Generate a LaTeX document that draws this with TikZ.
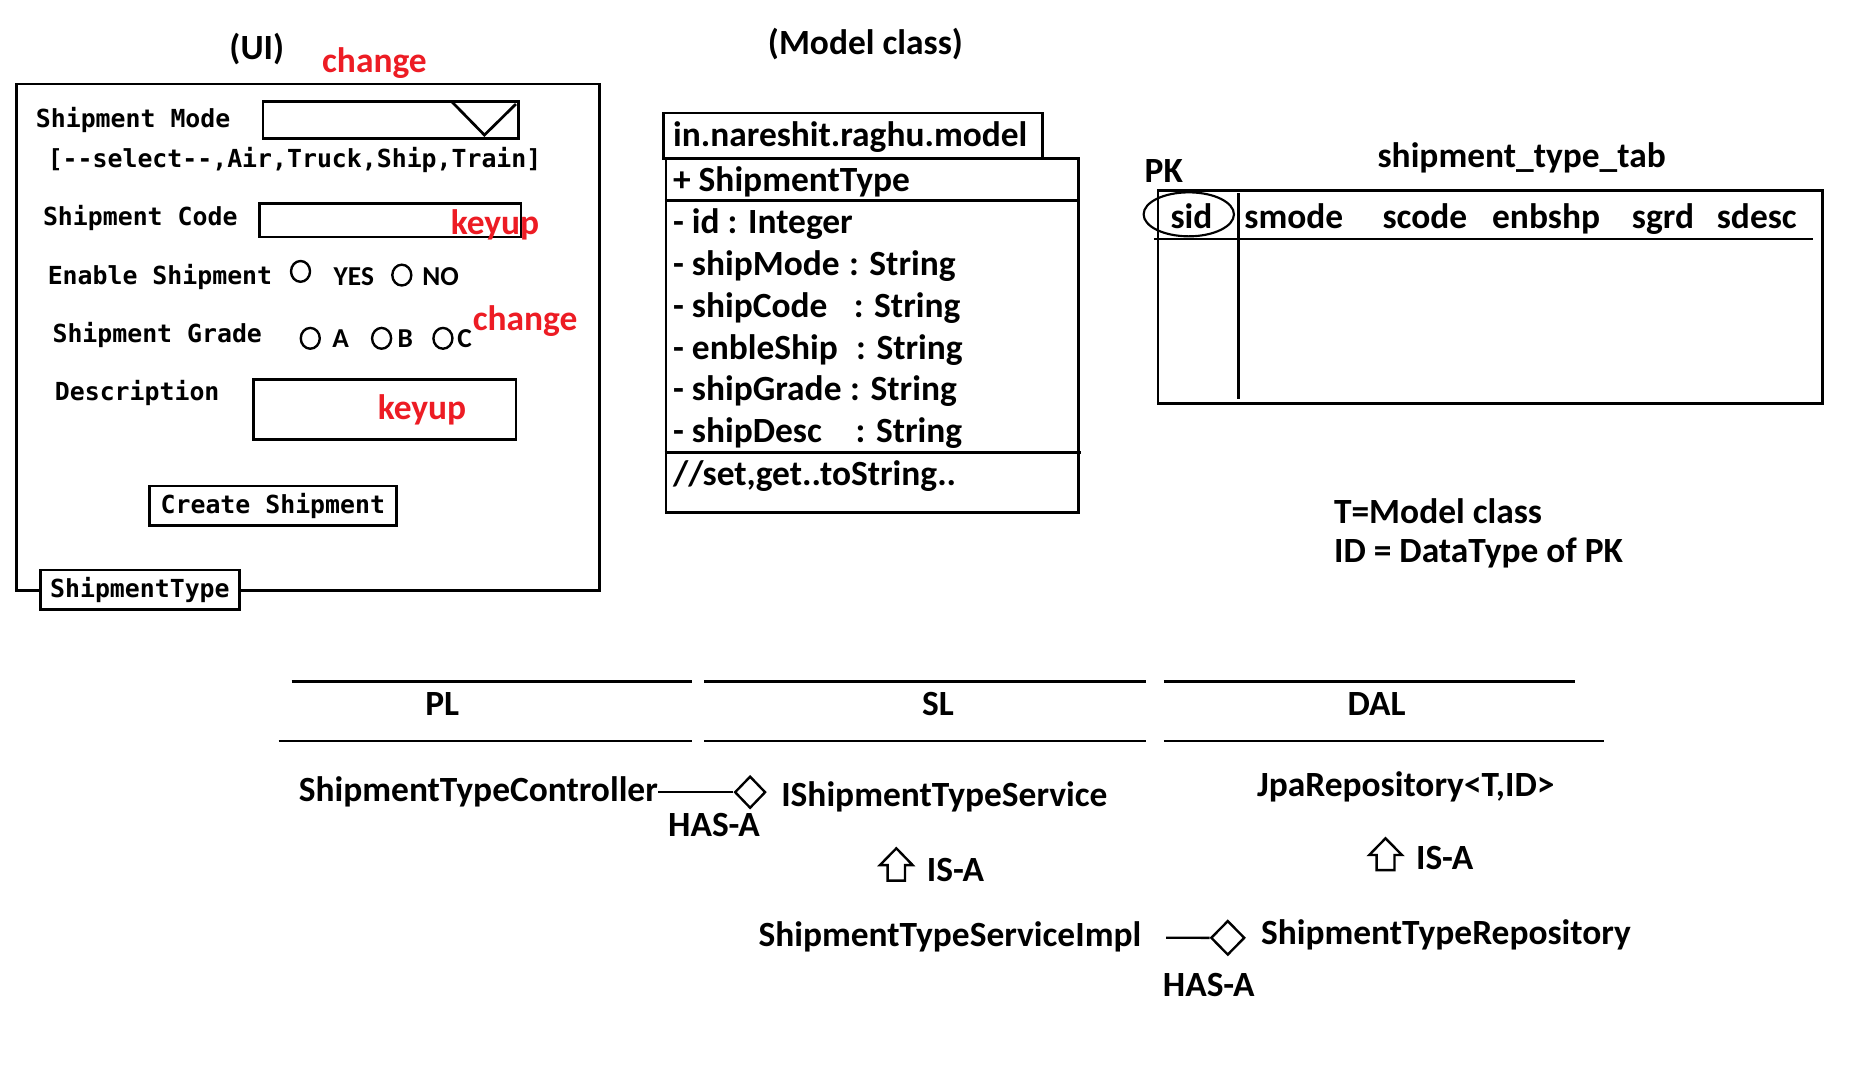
\documentclass[tikz,border=0pt]{standalone}
\usepackage{fontspec}
\setmainfont{Carlito}
\newfontfamily\uimono[Ligatures=TeXOff]{DejaVu Sans Mono}
\usetikzlibrary{shapes.geometric}
\definecolor{redc}{RGB}{237,28,36}
\begin{document}
\begin{tikzpicture}[x=1pt,y=-1pt,
  txt/.style={font=\bfseries\fontsize{29.8}{34}\selectfont, inner sep=0pt},
  rtxt/.style={font=\bfseries\fontsize{29.8}{34}\selectfont, inner sep=0pt, text=redc},
  opt/.style={font=\bfseries\fontsize{23}{26}\selectfont, inner sep=0pt},
  mono/.style={font=\uimono\bfseries\fontsize{20.9}{24}\selectfont, inner sep=0pt},
  box/.style={draw, line width=2.3pt, inner sep=0pt},
  rule/.style={line width=2.3pt},
  radio/.style={draw, line width=2pt, ellipse, minimum width=16pt, minimum height=17.5pt, inner sep=0pt},
  hasa/.style={draw, diamond, line width=2pt, fill=white, inner sep=0pt},
  isa/.style={line width=2pt, line join=miter},
]
\useasboundingbox[fill=white] (0,0) rectangle (1568,915);

% ---------------- UI ----------------
\node[txt] (uititle) at (216,41) {(UI)};
\node[rtxt] (chg1) at (315,53) {change};
\node[box, anchor=north west, minimum width=490pt, minimum height=426pt] (uibox) at (13,69.5) {};

\node[mono, anchor=west] (lmode) at (30,101) {Shipment Mode};
\node[box, anchor=north west, minimum width=215pt, minimum height=31pt] (modebox) at (220,84.5) {};
\draw[rule] (380,85.5) -- (407.5,113.6) -- (434,87.5);
\node[mono, anchor=west] (opts) at (40,134.6) {[--select--,Air,Truck,Ship,Train]};

\node[mono, anchor=west] (lcode) at (36,183.7) {Shipment Code};
\node[box, anchor=north west, minimum width=220pt, minimum height=28pt] (codebox) at (217,170.2) {};
\node[rtxt, anchor=west] (key1) at (379,189.3) {keyup};

\node[mono, anchor=west] (lenable) at (40,232.8) {Enable Shipment};
\node[radio] (ryes) at (252.8,228.3) {};
\node[opt, anchor=west] (yes) at (280.5,232.8) {YES};
\node[radio] (rno) at (338,231.4) {};
\node[opt, anchor=west] (no) at (355,232.8) {NO};

\node[mono, anchor=west] (lgrade) at (44,281.8) {Shipment Grade};
\node[radio] (ra) at (261,284.6) {};
\node[opt, anchor=west] (ga) at (279.4,285) {A};
\node[radio] (rb) at (321,284.6) {};
\node[opt, anchor=west] (gb) at (334.3,285) {B};
\node[radio] (rc) at (372.6,284.6) {};
\node[opt, anchor=west] (gc) at (384.5,285) {C};
\node[rtxt, anchor=west] (chg2) at (397.5,269.8) {change};

\node[mono, anchor=west] (ldesc) at (46,330.9) {Description};
\node[box, anchor=north west, minimum width=221pt, minimum height=50.5pt] (descbox) at (212,318.2) {};
\node[rtxt] (key2) at (355,344.9) {keyup};

\node[box, mono, fill=white, minimum width=208pt, minimum height=33.4pt] (create) at (229.5,425.5) {Create Shipment};
\node[box, mono, fill=white, minimum width=167pt, minimum height=33pt] (stype) at (117.7,496) {ShipmentType};

% ---------------- Model class ----------------
\node[txt] (mtitle) at (728,37) {(Model class)};
\node[box, anchor=north west, minimum width=319pt, minimum height=38pt] (pkg) at (557,94) {};
\node[txt, anchor=west] (pkgt) at (566,115.5) {in.nareshit.raghu.model};
\node[box, anchor=north west, minimum width=347pt, minimum height=298pt] (cls) at (559,132) {};
\draw[rule] (cls.west |- 0,168.8) -- (cls.east |- 0,168.8);
\draw[rule] (cls.west |- 0,380.6) -- (909,380.6);
\node[txt, anchor=base west] (cname) at (566,161.2) {+ ShipmentType};
\node[txt, anchor=base west] (a1) at (566,196) {- id : Integer};
\node[txt, anchor=base west] (a2) at (566,231.7) {- shipMode};
\node[txt, anchor=base west] (a2t) at (714,231.7) {: String};
\node[txt, anchor=base west] (a3) at (566,267.1) {- shipCode};
\node[txt, anchor=base west] (a3t) at (718,267.1) {: String};
\node[txt, anchor=base west] (a4) at (566,302.1) {- enbleShip};
\node[txt, anchor=base west] (a4t) at (720,302.1) {: String};
\node[txt, anchor=base west] (a5) at (566,337.1) {- shipGrade};
\node[txt, anchor=base west] (a5t) at (715,337.1) {: String};
\node[txt, anchor=base west] (a6) at (566,372.1) {- shipDesc};
\node[txt, anchor=base west] (a6t) at (719.5,372.1) {: String};
\node[txt, anchor=base west] (meth) at (566,408) {//set,get..toString..};

% ---------------- Table ----------------
\node[txt] (pk) at (979,144) {PK};
\node[txt] (ttitle) at (1280,133) {shipment\_type\_tab};
\node[box, anchor=north west, minimum width=559pt, minimum height=179pt] (tab) at (973,159) {};
\draw[rule] (970.6,201) -- (1525,201);
\draw[rule] (1042,162.4) -- (1042,335.5);
\node[draw, ellipse, line width=1.8pt, minimum width=76pt, minimum height=37pt, inner sep=0pt] (pkell) at (1000,180.3) {};
\node[txt, anchor=base] (hsid) at (1002.3,192.4) {sid};
\node[txt, anchor=base west] (hsmode) at (1046.6,192.4) {smode};
\node[txt, anchor=base west] (hscode) at (1162.8,192.4) {scode};
\node[txt, anchor=base west] (henb) at (1255,192.4) {enbshp};
\node[txt, anchor=base west] (hsgrd) at (1372.6,192.4) {sgrd};
\node[txt, anchor=base west] (hsdesc) at (1444,192.4) {sdesc};

\node[txt, anchor=west] (note1) at (1122,430) {T=Model class};
\node[txt, anchor=west] (note2) at (1122,465) {ID = DataType of PK};

% ---------------- Layers ----------------
\draw[rule] (245.4,573.4) -- (582,573.4);
\draw[rule] (592.6,573.4) -- (964.4,573.4);
\draw[rule] (979,573.4) -- (1325,573.4);
\draw[rule] (234.3,623.3) -- (582,623.3);
\draw[rule] (592.6,623.3) -- (964.4,623.3);
\draw[rule] (979,623.3) -- (1349,623.3);
\node[txt] (pl) at (372,592) {PL};
\node[txt] (sl) at (789,592) {SL};
\node[txt] (dal) at (1158,592) {DAL};

\node[txt, anchor=west] (ctrl) at (251.2,666) {ShipmentTypeController};
\node[hasa, minimum width=26pt, minimum height=27pt] (d1) at (631,666.4) {};
\draw[line width=2pt] (ctrl.east |- d1.west) -- (d1.west);
\node[txt, anchor=west] (isvc) at (657,670) {IShipmentTypeService};
\node[txt] (has1) at (600.6,694) {HAS-A};

\draw[isa] (754,713.6) -- (767.7,727.7) -- (761.3,727.7) -- (761.3,740.8) -- (746.7,740.8) -- (746.7,727.7) -- (740.2,727.7) -- cycle;
\node[txt, anchor=west] (isa1) at (779.5,731.9) {IS-A};

\node[txt, anchor=west] (impl) at (637.9,788) {ShipmentTypeServiceImpl};
\coordinate (h2s) at (981,788.8);
\node[hasa, minimum width=28.5pt, minimum height=29pt] (d2) at (1032.8,788.9) {};
\draw[line width=2pt] (h2s) -- (d2.west);
\node[txt, anchor=west] (repo) at (1060.6,786.5) {ShipmentTypeRepository};
\node[txt] (has2) at (1016.8,828.6) {HAS-A};

\node[txt] (jpa) at (1182.5,661.7) {JpaRepository<T,ID>};
\draw[isa] (1165.5,705.2) -- (1179.3,719.2) -- (1173,719.2) -- (1173,731.9) -- (1158,731.9) -- (1158,719.2) -- (1151.8,719.2) -- cycle;
\node[txt, anchor=west] (isa2) at (1191,722) {IS-A};
\end{tikzpicture}
\end{document}
